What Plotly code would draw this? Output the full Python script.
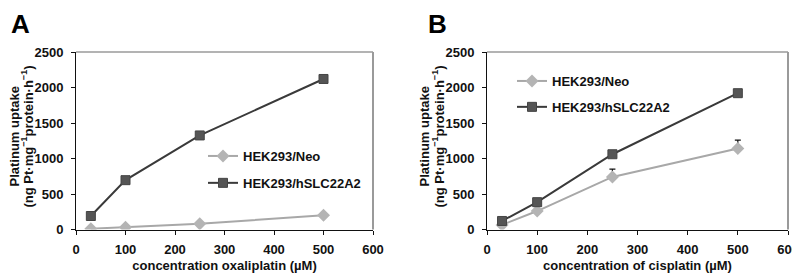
import plotly.graph_objects as go

conc = [30, 100, 250, 500]
a_neo = [10, 30, 80, 200]
a_slc = [190, 695, 1325, 2120]
b_neo = [65, 260, 740, 1140]
b_neo_err = [10, 25, 110, 120]
b_slc = [120, 385, 1060, 1920]

x_ticks = [0, 100, 200, 300, 400, 500, 600]
y_ticks = [0, 500, 1000, 1500, 2000, 2500]

FONT = "Arial, Liberation Sans, sans-serif"
NEO_LINE = "#a8a8a8"
NEO_MK = "#b4b4b4"
SLC_LINE = "#3a3a3a"
SLC_MK = "#555555"

# page body has an 8px margin; figure is sized to fill the remaining window
OFF = 8
W, H = 800 - OFF, 273 - OFF


def fx(p):
    return (p - OFF) / W


def fy(p):
    return 1 - (p - OFF) / H


fig = go.Figure()


def add_panel(xa, ya, neo, slc, legend, err=None):
    ex = dict(type="data", array=err, arrayminus=[0] * len(err), symmetric=False,
              color="#111111", thickness=1.2, width=3) if err else None
    fig.add_trace(go.Scatter(x=conc, y=neo, mode="lines+markers", name="HEK293/Neo",
                             xaxis=xa, yaxis=ya, legend=legend, legendgroup=legend + "n",
                             line=dict(color=NEO_LINE, width=2),
                             marker=dict(symbol="diamond", size=10, color=NEO_MK),
                             error_y=ex))
    fig.add_trace(go.Scatter(x=conc, y=slc, mode="lines+markers", name="HEK293/hSLC22A2",
                             xaxis=xa, yaxis=ya, legend=legend, legendgroup=legend + "s",
                             line=dict(color=SLC_LINE, width=2),
                             marker=dict(symbol="square", size=9, color=SLC_MK,
                                         line=dict(color="#444444", width=1))))


add_panel("x", "y", a_neo, a_slc, "legend")
add_panel("x2", "y2", b_neo, b_slc, "legend2", b_neo_err)

ydom = [fy(229.5), fy(52)]
xdomA = [fx(76), fx(373)]
xdomB = [fx(487), fx(788)]

BF = dict(family=FONT, size=13, color="#111111", weight="bold")
axcommon = dict(showgrid=False, zeroline=False, showline=True, linecolor="#111111",
                linewidth=1, ticks="outside", ticklen=4, tickcolor="#111111",
                tickfont=BF, automargin=False)

fig.update_layout(
    width=W, height=H, margin=dict(l=0, r=0, t=0, b=0),
    paper_bgcolor="white", plot_bgcolor="white",
    font=BF,
    xaxis=dict(domain=xdomA, range=[0, 600], tickvals=x_ticks, anchor="y",
               ticklabelstandoff=4,
               title=dict(text="concentration oxaliplatin (µM)", standoff=9, font=BF),
               **axcommon),
    yaxis=dict(domain=ydom, range=[0, 2500], tickvals=y_ticks, anchor="x",
               ticklabelstandoff=5, **axcommon),
    xaxis2=dict(domain=xdomB, range=[0, 600], tickvals=x_ticks, anchor="y2",
                ticklabelstandoff=4,
                title=dict(text="concentration of cisplatin (µM)", standoff=9, font=BF),
                **axcommon),
    yaxis2=dict(domain=ydom, range=[0, 2500], tickvals=y_ticks, anchor="x2",
                ticklabelstandoff=5, **axcommon),
    legend=dict(x=fx(203), y=fy(141), xanchor="left", yanchor="top",
                bgcolor="rgba(0,0,0,0)", tracegroupgap=7, font=BF),
    legend2=dict(x=fx(512), y=fy(66), xanchor="left", yanchor="top",
                 bgcolor="rgba(0,0,0,0)", tracegroupgap=6, font=BF),
)

# gray top/right frame
for xr, yr in [("x domain", "y domain"), ("x2 domain", "y2 domain")]:
    fig.add_shape(type="line", xref=xr, yref=yr, x0=0, x1=1, y0=1, y1=1,
                  line=dict(color="#9a9a9a", width=1.5))
    fig.add_shape(type="line", xref=xr, yref=yr, x0=1, x1=1, y0=0, y1=1,
                  line=dict(color="#9a9a9a", width=2))

yline1 = "Platinum uptake"
yline2 = "(ng Pt·mg<sup>−1</sup>protein·h<sup>−1</sup>)"
for x1, x2 in [(14, 27), (424, 438)]:
    fig.add_annotation(text=yline1, xref="paper", yref="paper", x=fx(x1),
                       y=fy(136.5), textangle=-90, showarrow=False,
                       xanchor="center", yanchor="middle", font=BF)
    fig.add_annotation(text=yline2, xref="paper", yref="paper", x=fx(x2),
                       y=fy(136.5), textangle=-90, showarrow=False,
                       xanchor="center", yanchor="middle", font=BF)

for lab, xc in [("A", 20), ("B", 437.5)]:
    fig.add_annotation(text=lab, xref="paper", yref="paper",
                       x=fx(xc), y=1, showarrow=False,
                       xanchor="center", yanchor="top", borderpad=0,
                       font=dict(family=FONT, size=26, color="#000000", weight="bold"))

fig.write_html("out.html")
